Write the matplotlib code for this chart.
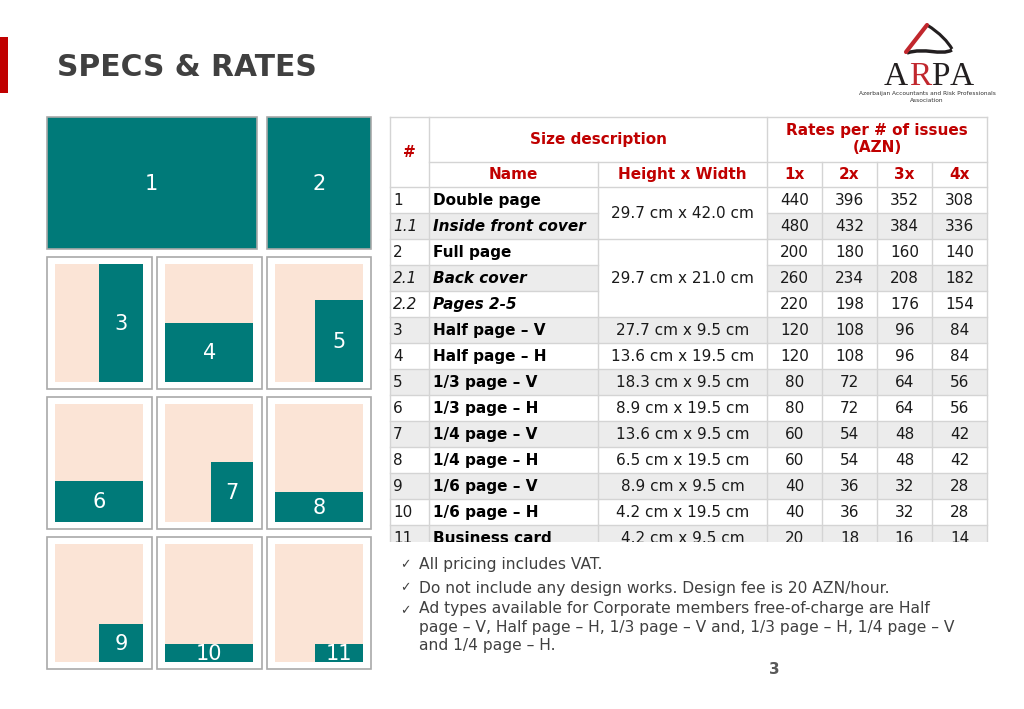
import matplotlib
matplotlib.use("Agg")

import matplotlib.pyplot as plt
from matplotlib.patches import Rectangle, PathPatch
from matplotlib.path import Path

# ---- table data ----
row_ids = ["1", "1.1", "2", "2.1", "2.2", "3", "4", "5", "6", "7", "8", "9", "10", "11"]
row_names = ["Double page", "Inside front cover", "Full page", "Back cover", "Pages 2-5",
             "Half page – V", "Half page – H", "1/3 page – V", "1/3 page – H",
             "1/4 page – V", "1/4 page – H", "1/6 page – V", "1/6 page – H", "Business card"]
size_labels = ["29.7 cm x 42.0 cm", "29.7 cm x 21.0 cm", "27.7 cm x 9.5 cm", "13.6 cm x 19.5 cm",
               "18.3 cm x 9.5 cm", "8.9 cm x 19.5 cm", "13.6 cm x 9.5 cm", "6.5 cm x 19.5 cm",
               "8.9 cm x 9.5 cm", "4.2 cm x 19.5 cm", "4.2 cm x 9.5 cm"]
size_rows = [2, 3, 1, 1, 1, 1, 1, 1, 1, 1, 1]  # rows each size cell spans
rate_1x = [440, 480, 200, 260, 220, 120, 120, 80, 80, 60, 60, 40, 40, 20]
rate_2x = [396, 432, 180, 234, 198, 108, 108, 72, 72, 54, 54, 36, 36, 18]
rate_3x = [352, 384, 160, 208, 176, 96, 96, 64, 64, 48, 48, 32, 32, 16]
rate_4x = [308, 336, 140, 182, 154, 84, 84, 56, 56, 42, 42, 28, 28, 14]
rate_heads = ["1x", "2x", "3x", "4x"]

notes = ["All pricing includes VAT.",
         "Do not include any design works. Design fee is 20 AZN/hour.",
         "Ad types available for Corporate members free-of-charge are Half\n"
         "page – V, Half page – H, 1/3 page – V and, 1/3 page – H, 1/4 page – V\n"
         "and 1/4 page – H."]

# ---- thumbnail layout: (label, x0, x1, y0, y1) as fractions of the inner page ----
thumbs = [("3", 0.50, 1.0, 0.0, 1.0), ("4", 0.0, 1.0, 0.50, 1.0), ("5", 0.46, 1.0, 0.305, 1.0),
          ("6", 0.0, 1.0, 0.65, 1.0), ("7", 0.517, 1.0, 0.494, 1.0), ("8", 0.0, 1.0, 0.743, 1.0),
          ("9", 0.50, 1.0, 0.677, 1.0), ("10", 0.0, 1.0, 0.844, 1.0), ("11", 0.46, 1.0, 0.846, 1.0)]

TEAL = "#007a79"
PINK = "#fbe4d6"
FRAME = "#a9a9a9"
RED = "#c00000"
GRID = "#d4d4d4"
STRIPE = "#ececec"
TXT = "#404040"

fig = plt.figure(figsize=(10.24, 7.09), dpi=100)
fig.patch.set_facecolor("white")
ax = fig.add_axes([0, 0, 1, 1])
ax.set_xlim(0, 1024)
ax.set_ylim(709, 0)
ax.axis("off")

# ---- title ----
ax.add_patch(Rectangle((0, 37), 8, 56, color="#c00000", lw=0))
ax.text(57, 67, "SPECS & RATES", fontsize=21.4, fontweight="bold", color=TXT, va="center", ha="left")

# ---- logo ----
for ch, x, col in [("A", 896, "#231f20"), ("R", 920, "#c1272d"), ("P", 940, "#231f20"), ("A", 962, "#231f20")]:
    ax.text(x, 85, ch, family="Liberation Serif", fontsize=24, color=col, ha="center", va="baseline")
ax.plot([906, 927], [52, 25], color="#c1272d", lw=3, solid_capstyle="round")
roof = Path([(927, 25), (940, 33), (948, 42), (952, 49)], [Path.MOVETO, Path.CURVE4, Path.CURVE4, Path.CURVE4])
ax.add_patch(PathPatch(roof, fc="none", ec="#231f20", lw=2.2))
swoosh = Path([(907, 53), (925, 47), (940, 56), (952, 50)], [Path.MOVETO, Path.CURVE4, Path.CURVE4, Path.CURVE4])
ax.add_patch(PathPatch(swoosh, fc="none", ec="#231f20", lw=2.5))
ax.text(927, 93, "Azerbaijan Accountants and Risk Professionals", fontsize=4.2, color="#333333", ha="center", va="center")
ax.text(927, 100, "Association", fontsize=4.2, color="#333333", ha="center", va="center")

# ---- thumbnails ----
for (x0, x1, lab) in [(46.7, 256.7, "1"), (266.7, 371, "2")]:
    ax.add_patch(Rectangle((x0, 116.7), x1 - x0, 132.6, fc=TEAL, ec=FRAME, lw=1.2))
    ax.text((x0 + x1) / 2, 184, lab, fontsize=15, color="white", ha="center", va="center")

col_x = [(46.7, 151.7), (156.7, 261.7), (266.7, 371)]
row_y = [(256.7, 389), (396.7, 529.3), (536.7, 669.3)]
for i, (lab, fx0, fx1, fy0, fy1) in enumerate(thumbs):
    cx0, cx1 = col_x[i % 3]
    ry0, ry1 = row_y[i // 3]
    ax.add_patch(Rectangle((cx0, ry0), cx1 - cx0, ry1 - ry0, fc="white", ec=FRAME, lw=1.2))
    px0, px1, py0, py1 = cx0 + 8.3, cx1 - 8.4, ry0 + 7.3, ry1 - 7.2
    pw, ph = px1 - px0, py1 - py0
    ax.add_patch(Rectangle((px0, py0), pw, ph, fc=PINK, lw=0))
    tx0, tx1 = px0 + fx0 * pw, px0 + fx1 * pw
    ty0, ty1 = py0 + fy0 * ph, py0 + fy1 * ph
    ax.add_patch(Rectangle((tx0, ty0), tx1 - tx0, ty1 - ty0, fc=TEAL, lw=0))
    ax.text((tx0 + tx1) / 2, (ty0 + ty1) / 2 + 1, lab, fontsize=15, color="white", ha="center", va="center")

# ---- table ----
cols = [390, 429, 598, 767, 822, 877, 932, 987]
top, h1, h2, rh = 117, 161.7, 187.3, 26.0
n = len(row_ids)
bottom = h2 + n * rh

ax.add_patch(Rectangle((cols[0], top), cols[-1] - cols[0], bottom - top, fc="white", lw=0))
for i in range(n):
    if i % 2 == 1:
        y0 = h2 + i * rh
        ax.add_patch(Rectangle((cols[0], y0), cols[-1] - cols[0], rh, fc=STRIPE, lw=0))

# merged size cells (white, drawn over stripes)
r = 0
starts = []
for lab, span in zip(size_labels, size_rows):
    starts.append(r)
    y0 = h2 + r * rh
    if span > 1:
        ax.add_patch(Rectangle((cols[2], y0), cols[3] - cols[2], span * rh, fc="white", lw=0))
    ax.text((cols[2] + cols[3]) / 2, y0 + span * rh / 2, lab, fontsize=11, color="#1a1a1a",
            ha="center", va="center")
    r += span

# grid lines
lw = 1.0
ax.plot([cols[0], cols[-1]], [top, top], color=GRID, lw=lw)
ax.plot([cols[1], cols[-1]], [h1, h1], color=GRID, lw=lw)
ax.plot([cols[0], cols[-1]], [h2, h2], color=GRID, lw=lw)
for x in [cols[0], cols[1], cols[3], cols[-1]]:
    ax.plot([x, x], [top, bottom], color=GRID, lw=lw)
ax.plot([cols[2], cols[2]], [h1, bottom], color=GRID, lw=lw)
for x in cols[4:7]:
    ax.plot([x, x], [h1, bottom], color=GRID, lw=lw)
for i in range(1, n + 1):
    y = h2 + i * rh
    ax.plot([cols[0], cols[2]], [y, y], color=GRID, lw=lw)
    ax.plot([cols[3], cols[-1]], [y, y], color=GRID, lw=lw)
    if i in starts or i == n:
        ax.plot([cols[2], cols[3]], [y, y], color=GRID, lw=lw)

# headers
hkw = dict(fontsize=11, fontweight="bold", color=RED, ha="center", va="center")
ax.text((cols[0] + cols[1]) / 2, (top + h2) / 2, "#", **hkw)
ax.text((cols[1] + cols[3]) / 2, (top + h1) / 2, "Size description", **hkw)
ax.text((cols[3] + cols[-1]) / 2, 130, "Rates per # of issues", **hkw)
ax.text((cols[3] + cols[-1]) / 2, 148, "(AZN)", **hkw)
ax.text((cols[1] + cols[2]) / 2, (h1 + h2) / 2, "Name", **hkw)
ax.text((cols[2] + cols[3]) / 2, (h1 + h2) / 2, "Height x Width", **hkw)
for j, lab in enumerate(rate_heads):
    ax.text((cols[3 + j] + cols[4 + j]) / 2, (h1 + h2) / 2, lab, **hkw)

# body
for i in range(n):
    yc = h2 + i * rh + rh / 2
    sub = "." in row_ids[i]
    ax.text(cols[0] + 3, yc, row_ids[i], fontsize=11, color="#1a1a1a", ha="left", va="center",
            style="italic" if sub else "normal")
    ax.text(cols[1] + 4, yc, row_names[i], fontsize=11, fontweight="bold", color="black",
            ha="left", va="center", style="italic" if sub else "normal")
    for j, vals in enumerate([rate_1x, rate_2x, rate_3x, rate_4x]):
        ax.text((cols[3 + j] + cols[4 + j]) / 2, yc, str(vals[i]), fontsize=11, color="#1a1a1a",
                ha="center", va="center")

# notes box covers the bottom of the table
ax.add_patch(Rectangle((386, 542), 606, 125, fc="white", lw=0, zorder=10))
for y in [565, 588, 611]:
    ax.text(400, y, "✓", fontsize=9, color=TXT, va="center", zorder=11)
ax.text(419, 565, notes[0], fontsize=11.2, color=TXT, va="center", zorder=11)
ax.text(419, 588, notes[1], fontsize=11.2, color=TXT, va="center", zorder=11)
ax.text(419, 601, notes[2], fontsize=11.2, color=TXT, va="top", linespacing=1.3, zorder=11)

ax.text(774, 670, "3", fontsize=11, fontweight="bold", color="#595959", ha="center", va="center", zorder=11)

fig.savefig("out.png", dpi=100)
